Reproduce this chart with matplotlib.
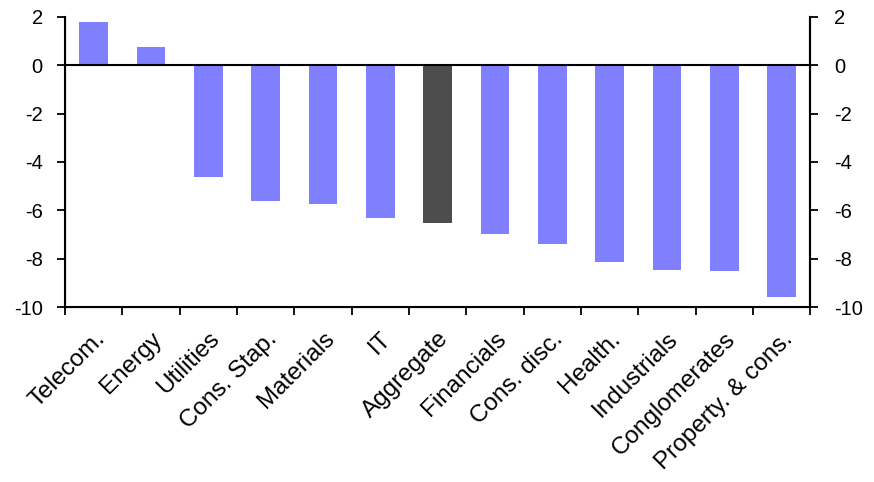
import matplotlib
matplotlib.use("Agg")
import numpy as np
import matplotlib.pyplot as plt

plt.rcParams['font.family'] = ['Liberation Sans', 'DejaVu Sans']
plt.rcParams['axes.unicode_minus'] = False

sectors = ["Telecom.", "Energy", "Utilities", "Cons. Stap.", "Materials", "IT",
           "Aggregate", "Financials", "Cons. disc.", "Health.", "Industrials",
           "Conglomerates", "Property. & cons."]
values = [1.77, 0.77, -4.63, -5.63, -5.75, -6.33, -6.54, -6.99, -7.41,
          -8.12, -8.48, -8.52, -9.58]

colors = ['#4d4d4d' if s == "Aggregate" else '#8080ff' for s in sectors]

fig = plt.figure(figsize=(8.74, 4.82), dpi=100)
ax = fig.add_axes([0.0744, 0.363, 0.8526, 0.602])
x = np.arange(len(sectors))
ax.bar(x, values, width=0.5, color=colors, zorder=2)
ax.axhline(0, color='black', lw=1.5, zorder=3)

ax.set_xlim(-0.5, len(sectors) - 0.5)
ax.set_ylim(-10, 2)
ax.set_yticks(np.arange(-10, 3, 2))
ax.tick_params(axis='y', labelsize=14.5, width=1.3, length=6, direction='out', pad=10)

# ticks between categories, labels at centres
ax.set_xticks(np.arange(len(sectors) + 1) - 0.5)
ax.set_xticklabels([])
ax.set_xticks(x, minor=True)
ax.set_xticklabels(sectors, minor=True, rotation=45, ha='right',
                   rotation_mode='anchor', fontsize=17.5)
ax.tick_params(axis='x', which='major', width=1.3, length=6, direction='out')
ax.tick_params(axis='x', which='minor', length=0, pad=15)

ax.spines['top'].set_visible(False)
for s in ['left', 'right', 'bottom']:
    ax.spines[s].set_linewidth(1.5)

ax2 = ax.twinx()
ax2.set_ylim(-10, 2)
ax2.set_yticks(np.arange(-10, 3, 2))
ax2.tick_params(axis='y', labelsize=14.5, width=1.3, length=6, direction='out', pad=11)
ax2.spines['top'].set_visible(False)
ax2.spines['right'].set_linewidth(1.5)

fig.savefig("out.png", dpi=100)
